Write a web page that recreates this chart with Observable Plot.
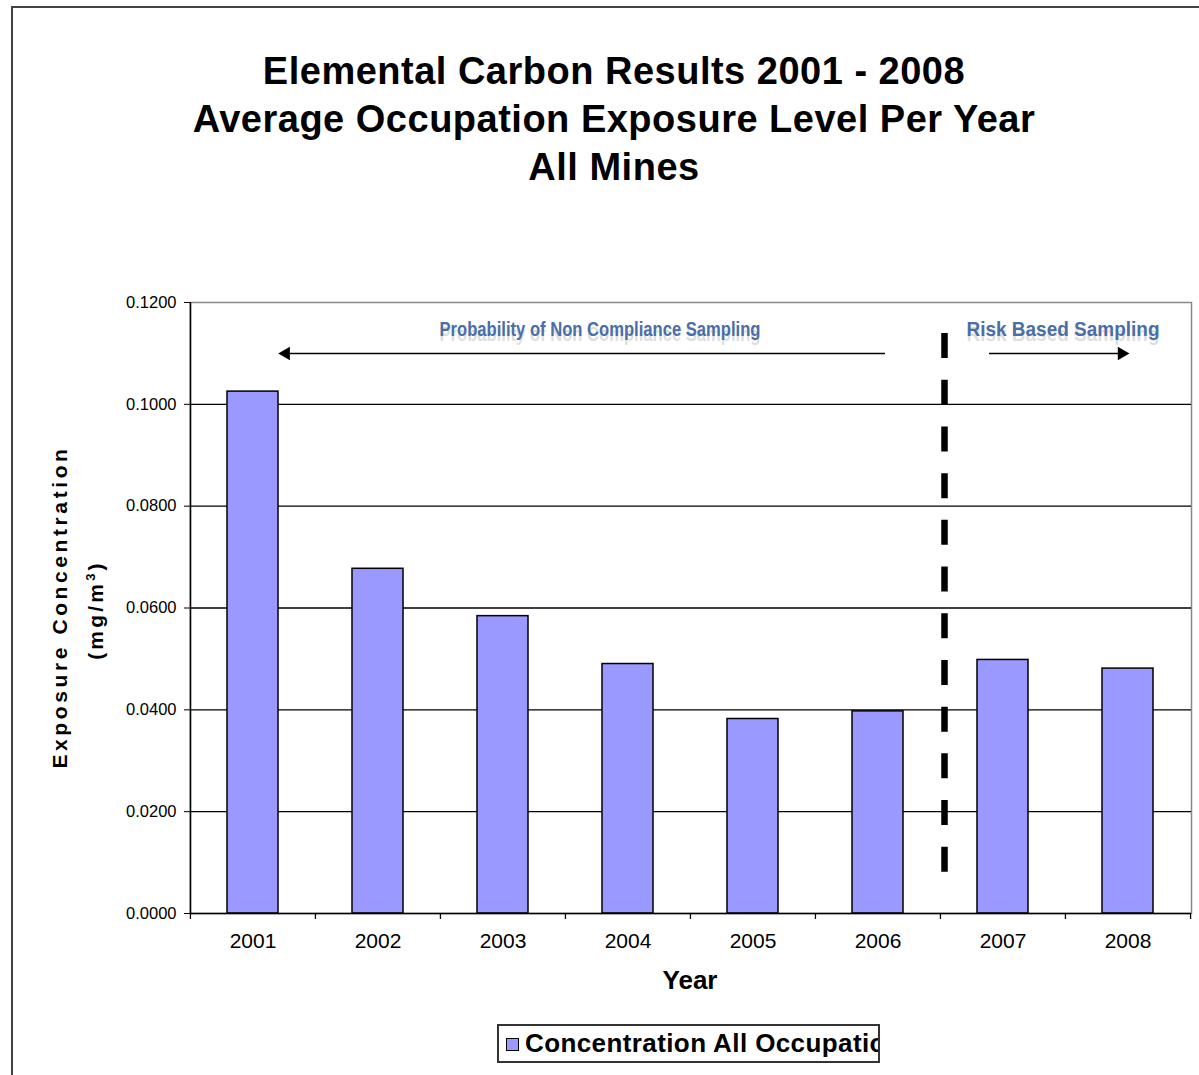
<!DOCTYPE html>
<html>
<head>
<meta charset="utf-8">
<script src="https://cdn.jsdelivr.net/npm/d3@7"></script>
<script src="https://cdn.jsdelivr.net/npm/@observablehq/plot@0.6"></script>
<style>
  html, body { margin: 0; padding: 0; background: #fff; }
  #wrap { position: relative; width: 1199px; height: 1075px; overflow: hidden; background: #fff; font-family: "Liberation Sans", Arial, sans-serif; }
  #frame { position: absolute; left: 11px; top: 6px; width: 1300px; height: 1200px; border: 2px solid #444; box-sizing: border-box; }
  #chart { position: absolute; left: 0; top: 0; }
  .title { position: absolute; left: 0; width: 1228px; text-align: center; font-weight: bold; font-size: 38px; letter-spacing: 0.5px; color: #000; line-height: 40px; }
  .ylab { position: absolute; transform: translate(-50%, -50%) rotate(-90deg); white-space: nowrap; font-weight: bold; color: #000; }
  #xlab { position: absolute; left: 690px; top: 980px; transform: translate(-50%, -50%); font-weight: bold; font-size: 26px; }
  #legend { position: absolute; left: 497px; top: 1024px; width: 383px; height: 39px; border: 2px solid #333; box-sizing: border-box; overflow: hidden; white-space: nowrap; }
  #legend .sw { position: absolute; left: 7px; top: 12px; width: 11px; height: 11px; background: #9999ff; border: 1px solid #000; }
  #legend .tx { position: absolute; left: 26px; top: 2px; font-weight: bold; font-size: 26px; letter-spacing: 0.4px; line-height: 30px; }
</style>
</head>
<body>
<div id="wrap">
  <div id="frame"></div>
  <div id="chart"></div>
  <div class="title" style="top:51px">Elemental Carbon Results 2001 - 2008</div>
  <div class="title" style="top:99px">Average Occupation Exposure Level Per Year</div>
  <div class="title" style="top:147px">All Mines</div>
  <div class="ylab" style="left:60px; top:607px; font-size:21px; letter-spacing:3.6px;">Exposure Concentration</div>
  <div class="ylab" style="left:95px; top:610px; font-size:21px; letter-spacing:3.2px;">(mg/m<sup style="font-size:13px">3</sup>)</div>
  <div id="xlab">Year</div>
  <div id="legend"><div class="sw"></div><div class="tx">Concentration All Occupations</div></div>
</div>
<script>
// ---- data ----
const years = ["2001", "2002", "2003", "2004", "2005", "2006", "2007", "2008"];
const concentration = [0.1025, 0.0677, 0.0584, 0.0490, 0.0382, 0.0397, 0.0498, 0.0481];
const yTicks = [0, 0.02, 0.04, 0.06, 0.08, 0.10, 0.12];
const gridValues = [0.02, 0.04, 0.06, 0.08, 0.10];
const annotationLabels = ["Probability of Non Compliance Sampling", "Risk Based Sampling"];
const annotationYears = ["2004", "2008"];
const annotationLevel = 0.1147;
const arrowStarts = ["2001", "2007"];
const arrowEnds = ["2006", "2008"];
const arrowLevel = 0.110;
const dividerYear = "2007";
const dividerRange = [0.1139, 0.0069];

const data = years.map((year, i) => ({year, value: concentration[i]}));
const annots = annotationLabels.map((label, i) => ({label, year: annotationYears[i], value: annotationLevel}));
const arrows = arrowStarts.map((s, i) => ({start: s, end: arrowEnds[i], value: arrowLevel}));
const divider = {year: dividerYear, top: dividerRange[0], bottom: dividerRange[1]};

// ---- layout ----
const W = 1199, H = 1075;
const mL = 190, mR = 8, mT = 302, mB = 162;
const step = (W - mL - mR) / years.length;
const tickLen = 6 / ((H - mT - mB) / 0.12);
const narrow = "'Liberation Sans Narrow', 'Liberation Sans', Arial, sans-serif";

const plot = Plot.plot({
  width: W,
  height: H,
  marginLeft: mL,
  marginRight: mR,
  marginTop: mT,
  marginBottom: mB,
  style: {fontFamily: "'Liberation Sans', Arial, sans-serif", background: "transparent", overflow: "visible"},
  x: {type: "band", domain: years, paddingInner: 0.59, paddingOuter: 0.295, label: null},
  y: {domain: [0, 0.12], label: null},
  marks: [
    Plot.frame({stroke: "#888", strokeWidth: 1.5}),
    Plot.ruleY(gridValues, {stroke: "#000", strokeWidth: 1.3}),
    Plot.barY(data, {x: "year", y: "value", fill: "#9999ff", stroke: "#000", strokeWidth: 1.5}),
    // divider between sampling regimes
    Plot.ruleX([divider], {x: "year", dx: -58.5, y1: "top", y2: "bottom", stroke: "#000", strokeWidth: 6.5, strokeDasharray: "25,21.7"}),
    // arrow shafts
    Plot.ruleY([arrows[0]], {y: "value", x1: "start", x2: "end", insetLeft: 63, insetRight: 18, stroke: "#000", strokeWidth: 1.5}),
    Plot.ruleY([arrows[1]], {y: "value", x1: "start", x2: "end", insetLeft: 12, insetRight: 34, stroke: "#000", strokeWidth: 1.5}),
    // arrow heads
    Plot.dot([arrows[0]], {x: "start", y: "value", dx: 33, symbol: "triangle", r: 5, rotate: -90, fill: "#000", stroke: null}),
    Plot.dot([arrows[1]], {x: "end", y: "value", dx: -6.3, symbol: "triangle", r: 5, rotate: 90, fill: "#000", stroke: null}),
    // annotation text with soft shadow
    Plot.text([annots[0]], {x: "year", y: "value", text: "label", dx: -28, dy: 5, fill: "#b5b5b5", fillOpacity: 0.45, fontSize: 21, fontFamily: narrow, fontWeight: "bold"}),
    Plot.text([annots[0]], {x: "year", y: "value", text: "label", dx: -28, fill: "#4a6ea8", fontSize: 21, fontFamily: narrow, fontWeight: "bold"}),
    Plot.text([annots[1]], {x: "year", y: "value", text: "label", dx: -65, dy: 5, fill: "#b5b5b5", fillOpacity: 0.45, fontSize: 21, fontFamily: narrow, fontWeight: "bold"}),
    Plot.text([annots[1]], {x: "year", y: "value", text: "label", dx: -65, fill: "#4a6ea8", fontSize: 21, fontFamily: narrow, fontWeight: "bold"}),
    // axes
    Plot.axisY({ticks: yTicks, tickFormat: d3.format(".4f"), tickSize: 6, tickPadding: 8, fontSize: 16.5, stroke: "#000"}),
    Plot.ruleX([years[0]], {x: (d) => d, dx: -step / 2, stroke: "#000", strokeWidth: 1.5}),
    Plot.ruleY([0], {stroke: "#000", strokeWidth: 1.5}),
    Plot.ruleX(years, {x: (d) => d, dx: -step / 2, y1: 0, y2: -tickLen, stroke: "#000", strokeWidth: 1.3}),
    Plot.ruleX([years[years.length - 1]], {x: (d) => d, dx: step / 2, y1: 0, y2: -tickLen, stroke: "#000", strokeWidth: 1.3}),
    Plot.axisX({tickSize: 0, tickPadding: 20, fontSize: 21})
  ]
});
document.getElementById("chart").appendChild(plot);

// condense the annotation labels to the narrow face used in the original
const annotWidths = {"Probability of Non Compliance Sampling": 321, "Risk Based Sampling": 193};
d3.select(plot).selectAll("text").each(function () {
  const w = annotWidths[this.textContent];
  if (w) { this.setAttribute("textLength", w); this.setAttribute("lengthAdjust", "spacingAndGlyphs"); }
});
</script>
</body>
</html>
